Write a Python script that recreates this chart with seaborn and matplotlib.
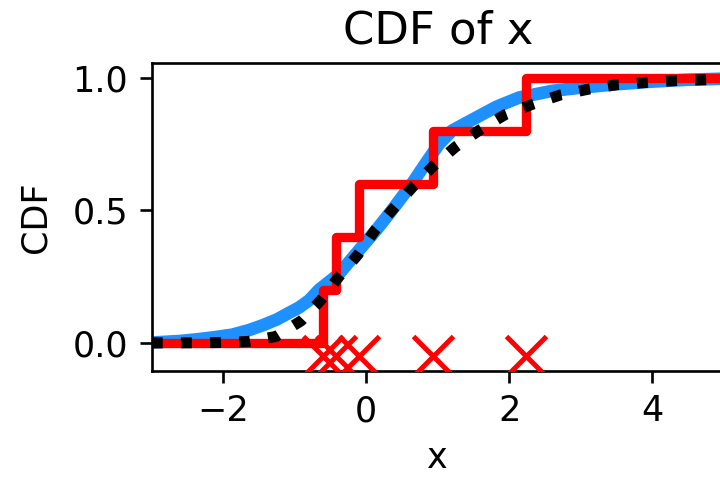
import numpy as np
import pandas as pd
import matplotlib
matplotlib.use("Agg")
import matplotlib.pyplot as plt
import seaborn as sns

# observed samples (red crosses / red ECDF)
samples = [-0.61, -0.42, -0.10, 0.93, 2.23]

# CDF estimated from many draws (blue)
blue_x = [-3.0, -2.6, -2.34, -2.1, -1.87, -1.64, -1.45, -1.25, -1.08, -0.94,
          -0.80, -0.66, -0.52, -0.38, -0.13, 0.14, 0.36, 0.64, 0.84, 1.02,
          1.2, 1.44, 1.82, 2.14, 2.6, 3.0, 3.5, 4.0, 4.5, 5.0]
blue_y = [0.001, 0.007, 0.014, 0.022, 0.031, 0.048, 0.066, 0.088, 0.113, 0.133,
          0.16, 0.20, 0.23, 0.26, 0.34, 0.425, 0.50, 0.60, 0.68, 0.75,
          0.80, 0.835, 0.89, 0.925, 0.95, 0.962, 0.975, 0.985, 0.992, 0.996]

# true CDF (black dotted)
true_x = [-3.0, -2.49, -2.08, -1.66, -1.26, -0.91, -0.63, -0.38, -0.12, 0.13,
          0.38, 0.65, 0.94, 1.25, 1.59, 1.94, 2.33, 2.72, 3.12, 3.52,
          3.93, 4.34, 4.75, 5.0]
true_y = [0.0, 0.0, 0.001, 0.005, 0.024, 0.083, 0.162, 0.25, 0.331, 0.427,
          0.506, 0.588, 0.667, 0.739, 0.803, 0.86, 0.90, 0.935, 0.957, 0.974,
          0.982, 0.989, 0.992, 0.994]

xlim = (-3, 5)
ylim = (-0.105, 1.054)

plt.rcParams.update({"font.family": "DejaVu Sans", "font.size": 10.5})

# empirical CDF of the observed samples, extended to the axis limits
xs = np.sort(samples)
ecdf = pd.DataFrame({
    "x": np.r_[xlim[0], xs, xlim[1]],
    "y": np.r_[0.0, np.arange(1, len(xs) + 1) / len(xs), 1.0],
})

fig = plt.figure(figsize=(3.0, 1.9875), dpi=240)
ax = fig.add_axes([0.2107, 0.2229, 0.7944, 0.6444])

sns.lineplot(x=blue_x, y=blue_y, color="#1E90FF", lw=3.8, ax=ax,
             estimator=None, sort=False, zorder=2)
sns.lineplot(data=ecdf, x="x", y="y", color="red", lw=2.8,
             drawstyle="steps-post", estimator=None, sort=False, ax=ax, zorder=3)
sns.lineplot(x=true_x, y=true_y, color="black", lw=3.3, ls=":", ax=ax,
             estimator=None, sort=False, zorder=4)
ax.plot(samples, [-0.05] * len(samples), "x", color="red", ms=12, mew=1.5,
        zorder=5)

ax.set_xlim(*xlim)
ax.set_ylim(*ylim)
ax.set_xticks([-2, 0, 2, 4])
ax.set_yticks([0.0, 0.5, 1.0])
ax.set_xlabel("x")
ax.set_ylabel("CDF", labelpad=6)
ax.set_title("CDF of x", fontsize=13.5)

fig.savefig("out.png", dpi=240, facecolor="white")
